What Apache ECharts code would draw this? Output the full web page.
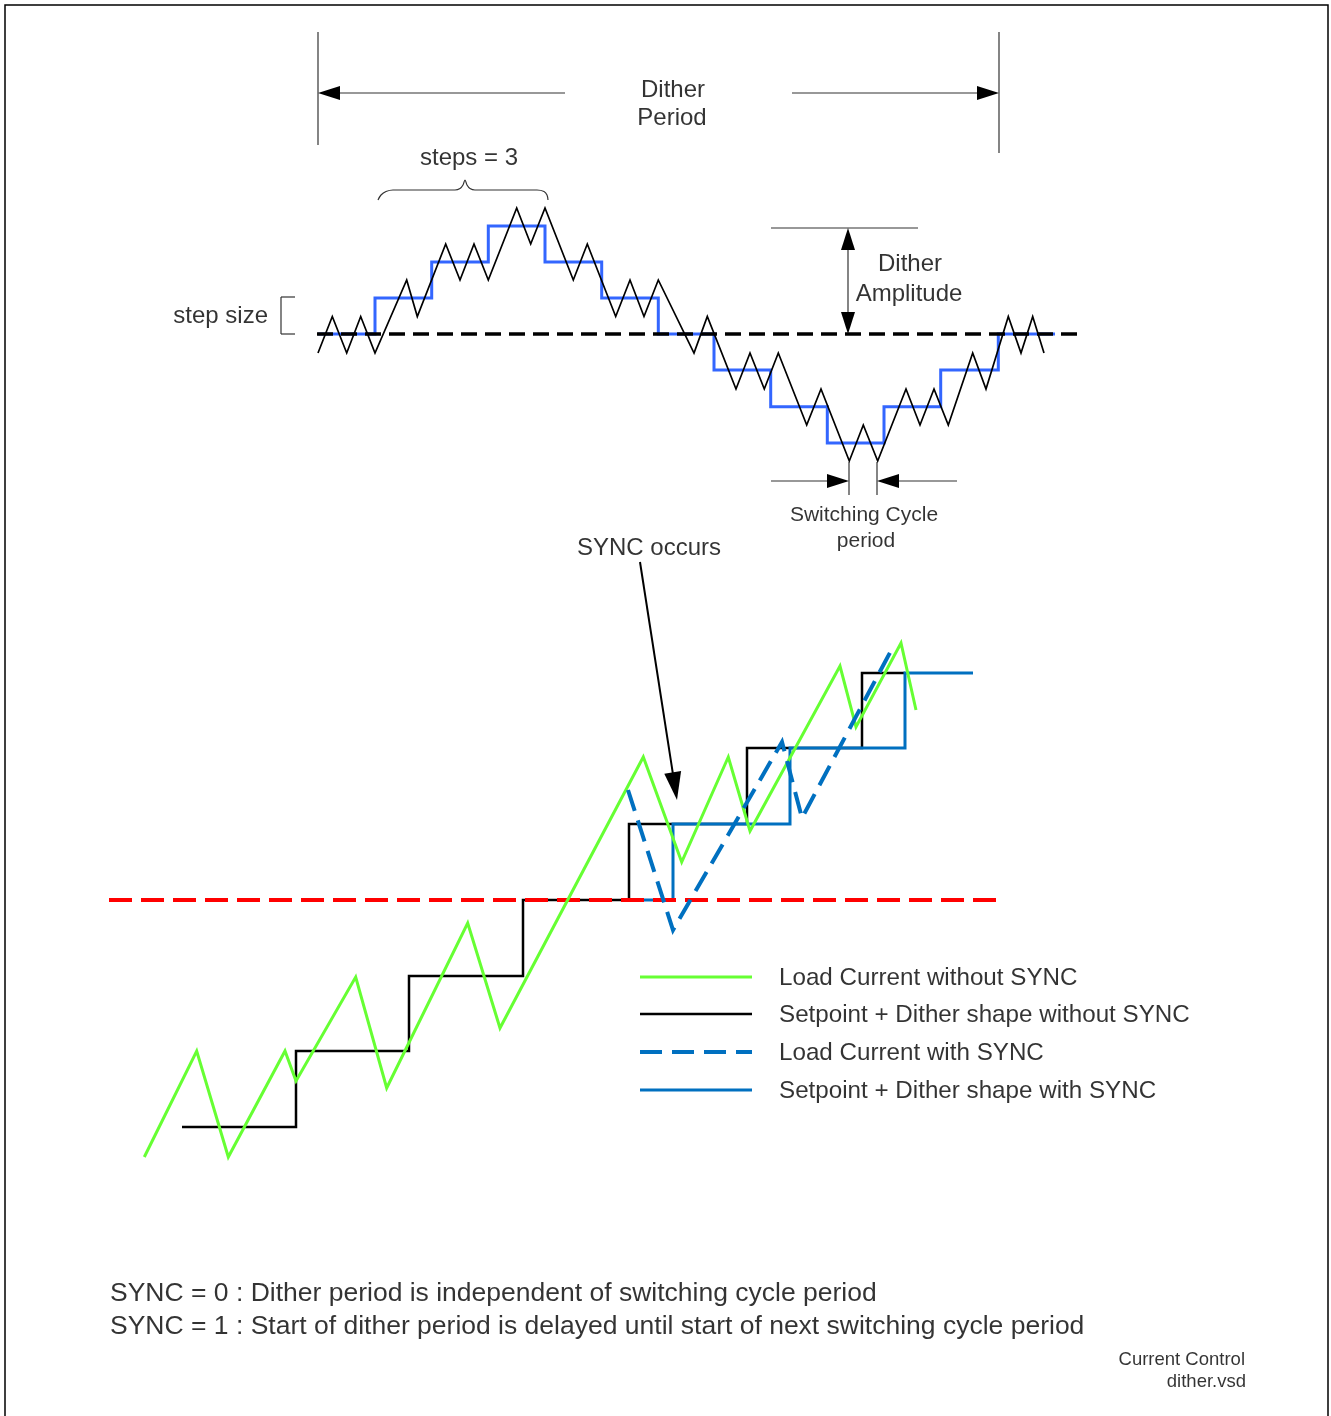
<!DOCTYPE html>
<html><head><meta charset="utf-8">
<script src="https://cdn.jsdelivr.net/npm/echarts@6/dist/echarts.min.js"></script>
<style>html,body{margin:0;padding:0;background:#fff}#c{width:1331px;height:1416px}</style>
</head><body><div id="c"></div>
<script>
// ---------- Top panel : setpoint + dither shape (blue steps) ----------
const ditherStepX = [318, 375, 431.7, 488.3, 545, 601.7, 658.3, 714, 770.7, 827.3, 884, 940.7, 998.3, 1055];
const ditherStepLevels = [334, 298, 262, 226, 262, 298, 334, 370, 406.7, 443, 406.7, 370, 334];
// load current ripple (black triangle wave)
const rippleX = [318, 332.3, 346.7, 360.7, 375, 406.7, 417.3, 445.7, 460, 474, 488.3, 516.7, 530.7, 545, 573.3, 587.3, 615.7, 630, 644, 658.3, 694, 707.3, 736, 750, 764.3, 778.3, 806.7, 821, 849.3, 863.3, 877.7, 906, 920, 934, 948.3, 972.7, 986, 1008.3, 1021, 1032.7, 1044];
const rippleY = [353, 316.5, 353, 316.5, 353, 280, 316.5, 244, 280, 244, 280, 208, 244, 208, 280, 244, 316.5, 280, 316.5, 280, 353, 316.5, 389, 353, 389, 353, 425, 389, 461, 425, 461, 389, 425, 389, 425, 353, 389, 316.5, 353, 316.5, 353];
const setpointLevel = 334;
const setpointSpan = [317, 1077];

// ---------- Bottom panel ----------
const loadNoSyncX = [144.3, 196.7, 228.3, 285, 296, 355.7, 386.7, 467.7, 500, 643.3, 681.7, 728.3, 750, 840, 856, 901, 916];
const loadNoSyncY = [1157, 1051, 1157, 1051, 1081, 977, 1088, 923, 1028, 757, 862, 757, 831, 666, 727, 643, 710];
const stepNoSyncX = [182, 296, 409, 523, 629, 747, 862, 905];
const stepNoSyncLevels = [1127, 1051, 976, 900, 824, 748, 673];
const loadSyncX = [628, 673, 782, 802, 893];
const loadSyncY = [790, 930, 742, 818, 647];
const stepSyncX = [629, 673, 790, 905, 973];
const stepSyncLevels = [900, 824, 748, 673];
const targetLevel = 900;
const targetSpan = [109, 997];

// ---------- Texts ----------
const legendNames = ['Load Current without SYNC', 'Setpoint + Dither shape without SYNC', 'Load Current with SYNC', 'Setpoint + Dither shape with SYNC'];
const noteLines = ['SYNC = 0 : Dither period is independent of switching cycle period', 'SYNC = 1 : Start of dither period is delayed until start of next switching cycle period'];
const footLines = ['Current Control', 'dither.vsd'];

const FONT = '"Liberation Sans", Arial, Helvetica, sans-serif';

function zip(xs, ys) { return xs.map((x, i) => [x, ys[i]]); }
function steps(xs, levels) {
  const pts = [];
  levels.forEach((lv, i) => { pts.push([xs[i], lv], [xs[i + 1], lv]); });
  return pts;
}
function lineSeries(data, color, width, dash, z, extra) {
  return Object.assign({
    type: 'line', data: data, symbol: 'none', silent: true, animation: false, z: z || 2,
    clip: false,
    lineStyle: { color: color, width: width, type: dash || 'solid', cap: 'butt', join: 'miter' }
  }, extra || {});
}

// annotation segments [x1,y1,x2,y2]
const segments = [
  [318, 32, 318, 145], [999, 32, 999, 153],
  [771, 228, 918, 228],
  [849, 462, 849, 495], [877, 462, 877, 495],
  [295, 297, 281, 297], [281, 297, 281, 334], [281, 334, 295, 334]
];
// thin arrows [x1,y1,x2(tip),y2(tip)]
const thinArrows = [
  [565, 93, 318, 93], [792, 93, 999, 93],
  [848, 281, 848, 228], [848, 281, 848, 334],
  [771, 481, 849, 481], [957, 481, 877, 481]
];
const syncArrow = [[640, 562, 677, 800]];

function segSeries(data, color, width) {
  return {
    type: 'custom', data: data, silent: true, animation: false, z: 5, clip: false,
    encode: { x: [0, 2], y: [1, 3] },
    renderItem: function (params, api) {
      const p1 = api.coord([api.value(0), api.value(1)]);
      const p2 = api.coord([api.value(2), api.value(3)]);
      return { type: 'line', shape: { x1: p1[0], y1: p1[1], x2: p2[0], y2: p2[1] }, style: { stroke: color, lineWidth: width } };
    }
  };
}
function arrowSeries(data, color, width, headLen, headW) {
  return {
    type: 'custom', data: data, silent: true, animation: false, z: 6, clip: false,
    encode: { x: [0, 2], y: [1, 3] },
    renderItem: function (params, api) {
      const p1 = api.coord([api.value(0), api.value(1)]);
      const p2 = api.coord([api.value(2), api.value(3)]);
      const dx = p2[0] - p1[0], dy = p2[1] - p1[1];
      const len = Math.sqrt(dx * dx + dy * dy);
      const ux = dx / len, uy = dy / len, nx = -uy, ny = ux;
      const bx = p2[0] - ux * headLen, by = p2[1] - uy * headLen;
      return {
        type: 'group', children: [
          { type: 'line', shape: { x1: p1[0], y1: p1[1], x2: bx + ux * 2, y2: by + uy * 2 }, style: { stroke: color, lineWidth: width } },
          { type: 'polygon', shape: { points: [[p2[0], p2[1]], [bx + nx * headW / 2, by + ny * headW / 2], [bx - nx * headW / 2, by - ny * headW / 2]] }, style: { fill: '#000' } }
        ]
      };
    }
  };
}

// text items: [x, y, text, position, size]
const texts = [
  [673, 90.5, 'Dither', 'inside', 24],
  [672, 118.5, 'Period', 'inside', 24],
  [469, 158.5, 'steps = 3', 'inside', 24],
  [268, 316.5, 'step size', 'left', 24],
  [910, 264.5, 'Dither', 'inside', 24],
  [909, 294.5, 'Amplitude', 'inside', 24],
  [864, 515.5, 'Switching Cycle', 'inside', 21],
  [866, 541.5, 'period', 'inside', 21],
  [649, 548.5, 'SYNC occurs', 'inside', 24],
  [779, 978.5, legendNames[0], 'right', 24.2],
  [779, 1015.5, legendNames[1], 'right', 24.2],
  [779, 1053.5, legendNames[2], 'right', 24.2],
  [779, 1091.5, legendNames[3], 'right', 24.2],
  [110, 1293.5, noteLines[0], 'right', 26.5],
  [110, 1326.5, noteLines[1], 'right', 26.5],
  [1245, 1360, footLines[0], 'left', 18.5],
  [1246, 1382, footLines[1], 'left', 18.5]
];

const braceX = [378, 381, 386, 393, 455, 460, 463, 465, 467, 470, 475, 537, 544, 547, 548];
const braceY = [200, 195, 191.5, 190, 190, 188.5, 185, 180, 185, 188.5, 190, 190, 191.5, 195, 200];

const series = [
  // border
  lineSeries([[5, 1416], [5, 5], [1328, 5], [1328, 1416]], '#000', 1.5, 'solid', 1),
  // top panel
  lineSeries(steps(ditherStepX, ditherStepLevels), '#3366ff', 3, 'solid', 2),
  lineSeries([[setpointSpan[0], setpointLevel], [setpointSpan[1], setpointLevel]], '#000', 3.5, [16, 8], 3),
  lineSeries(zip(rippleX, rippleY), '#000', 1.7, 'solid', 4),
  lineSeries(zip(braceX, braceY), '#333', 1.2, 'solid', 4, { smooth: 0.35 }),
  // bottom panel
  lineSeries(steps(stepNoSyncX, stepNoSyncLevels), '#000', 2.5, 'solid', 2),
  lineSeries(steps(stepSyncX, stepSyncLevels), '#0070c0', 3, 'solid', 3),
  lineSeries([[targetSpan[0], targetLevel], [targetSpan[1], targetLevel]], '#ff0000', 4, [23, 9], 3),
  lineSeries(zip(loadNoSyncX, loadNoSyncY), '#66ff33', 3, 'solid', 4),
  lineSeries(zip(loadSyncX, loadSyncY), '#0070c0', 4, [22, 10], 4),
  // legend samples
  lineSeries([[640, 977], [752, 977]], '#66ff33', 3, 'solid', 4),
  lineSeries([[640, 1014], [752, 1014]], '#000', 2.5, 'solid', 4),
  lineSeries([[640, 1052], [752, 1052]], '#0070c0', 4, [22, 10], 4),
  lineSeries([[640, 1090], [752, 1090]], '#0070c0', 3, 'solid', 4),
  // annotations
  segSeries(segments, '#333', 1.2),
  arrowSeries(thinArrows, '#333', 1.2, 22, 14),
  arrowSeries(syncArrow, '#000', 2, 28, 17),
  // texts
  {
    type: 'scatter', symbolSize: 0, silent: true, animation: false, z: 10, clip: false,
    data: texts.map(t => ({
      value: [t[0], t[1]],
      label: { show: true, formatter: t[2], position: t[3], distance: 0, fontSize: t[4], color: '#000', fontFamily: FONT }
    }))
  }
];

const chart = echarts.init(document.getElementById('c'), null, { renderer: 'canvas' });
chart.setOption({
  animation: false,
  backgroundColor: '#fff',
  grid: { left: 0, right: 0, top: 0, bottom: 0, containLabel: false },
  xAxis: { type: 'value', min: 0, max: 1331, show: false },
  yAxis: { type: 'value', min: 0, max: 1416, inverse: true, show: false },
  series: series
});
</script></body></html>
